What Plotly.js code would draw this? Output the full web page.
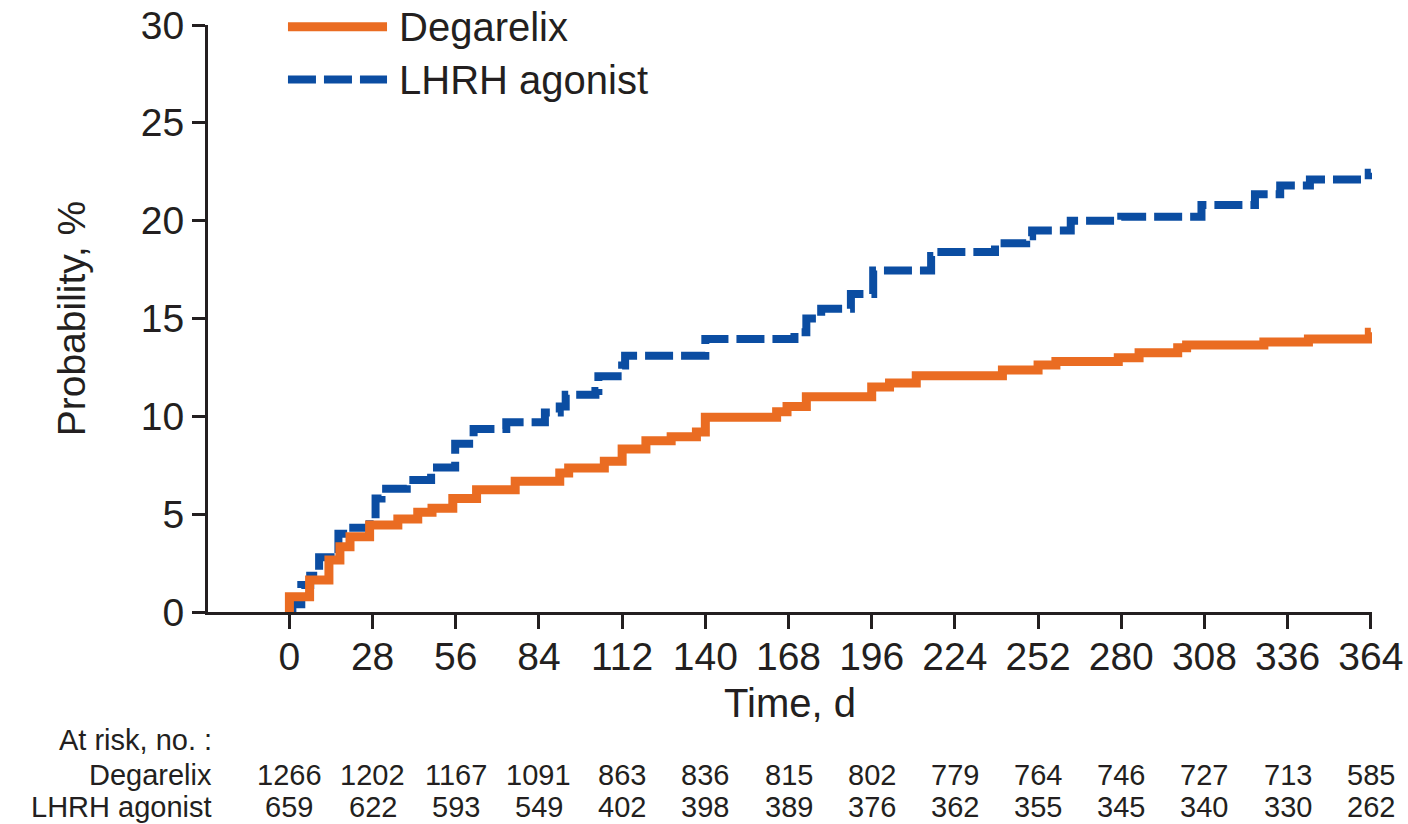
<!DOCTYPE html>
<html>
<head>
<meta charset="utf-8">
<script src="https://cdn.plot.ly/plotly-3.0.1.min.js"></script>
<style>
  html, body { margin: 0; padding: 0; background: #ffffff; }
  #chart { width: 1408px; height: 824px; }
</style>
</head>
<body>
<div id="chart"></div>
<script>
// Cumulative probability (%) step curves, time in days
const degarelixDays = [0, 0, 6.8, 13.3, 17, 20.4, 27, 36.5, 43.2, 48, 55, 63, 76, 91, 94, 106, 112, 120, 128.5, 137, 140, 164, 167.5, 174, 196, 202, 211, 240, 252, 258, 279, 286, 299, 302, 328, 343, 363.5, 364];
const degarelixProb = [0, 0.78, 1.63, 2.66, 3.34, 3.85, 4.45, 4.75, 5.1, 5.3, 5.8, 6.25, 6.68, 7.1, 7.36, 7.7, 8.33, 8.75, 8.96, 9.2, 9.95, 10.24, 10.5, 11.0, 11.5, 11.7, 12.08, 12.37, 12.62, 12.8, 13.0, 13.25, 13.5, 13.65, 13.8, 13.95, 14.3, 14.3];

const lhrhDays = [0, 1, 4, 7, 10, 16.5, 20, 27, 29, 31, 39.5, 47.7, 55.8, 62, 73, 86, 91, 93, 103, 104, 112, 113, 140, 170, 174, 179, 189, 196.5, 216, 218, 237.5, 248, 250, 263, 280, 307, 325, 333.5, 343.5, 363.3, 364];
const lhrhProb = [0, 0.4, 1.38, 1.85, 2.8, 4.0, 4.3, 5.0, 5.8, 6.3, 6.75, 7.38, 8.6, 9.35, 9.7, 10.2, 10.5, 11.1, 11.3, 12.05, 12.6, 13.1, 13.95, 14.3, 15.0, 15.5, 16.25, 17.45, 18.2, 18.4, 18.85, 19.2, 19.5, 20.0, 20.2, 20.8, 21.35, 21.8, 22.1, 22.45, 22.45];

// Number at risk table
const riskDays = [0, 28, 56, 84, 112, 140, 168, 196, 224, 252, 280, 308, 336, 364];
const riskDegarelix = [1266, 1202, 1167, 1091, 863, 836, 815, 802, 779, 764, 746, 727, 713, 585];
const riskLhrh = [659, 622, 593, 549, 402, 398, 389, 376, 362, 355, 345, 340, 330, 262];

const seriesNames = ['Degarelix', 'LHRH agonist'];
const riskHeader = 'At risk, no. :';

const ORANGE = '#EA6C22';
const BLUE = '#0B4DA2';
const INK = '#231F20';
const FONT = 'Liberation Sans, Arial, Helvetica, sans-serif';
const DASH = '28px,8px';
const TABLE_SIZE = 29;

const traces = [
  {
    x: lhrhDays, y: lhrhProb, name: seriesNames[1], type: 'scatter', mode: 'lines',
    line: { shape: 'hv', color: BLUE, width: 8, dash: DASH },
    showlegend: false, hoverinfo: 'x+y+name'
  },
  {
    x: degarelixDays, y: degarelixProb, name: seriesNames[0], type: 'scatter', mode: 'lines',
    line: { shape: 'hv', color: ORANGE, width: 9 },
    showlegend: false, hoverinfo: 'x+y+name'
  }
];

// paper-y positions of the at-risk rows
const rowHeaderY = -0.218, rowDegY = -0.278, rowLhrhY = -0.332;

const annotations = [];
function tableText(xref, x, y, xanchor, text) {
  annotations.push({ xref: xref, yref: 'paper', x: x, y: y, xanchor: xanchor, yanchor: 'middle',
    text: text, showarrow: false, font: { family: FONT, size: TABLE_SIZE, color: INK } });
}
tableText('paper', 0.005, rowHeaderY, 'right', riskHeader);
tableText('paper', 0.005, rowDegY, 'right', seriesNames[0]);
tableText('paper', 0.005, rowLhrhY, 'right', seriesNames[1]);
riskDays.forEach((d, i) => {
  tableText('x', d, rowDegY, 'center', String(riskDegarelix[i]));
  tableText('x', d, rowLhrhY, 'center', String(riskLhrh[i]));
});

// Legend built from a line sample and a label per series
const legendX0 = 0.0687, legendX1 = 0.1538, legendTextX = 0.162;
const legendY = [0.997, 0.907];
annotations.push({ xref: 'paper', yref: 'paper', x: legendTextX, y: legendY[0], xanchor: 'left', yanchor: 'middle',
  text: seriesNames[0], showarrow: false, font: { family: FONT, size: 40, color: INK } });
annotations.push({ xref: 'paper', yref: 'paper', x: legendTextX, y: legendY[1], xanchor: 'left', yanchor: 'middle',
  text: seriesNames[1], showarrow: false, font: { family: FONT, size: 40, color: INK } });

const shapes = [
  { type: 'line', xref: 'paper', yref: 'paper', x0: legendX0, x1: legendX1, y0: legendY[0], y1: legendY[0],
    line: { color: ORANGE, width: 9 } },
  { type: 'line', xref: 'paper', yref: 'paper', x0: legendX0, x1: legendX1, y0: legendY[1], y1: legendY[1],
    line: { color: BLUE, width: 8, dash: DASH } }
];

const layout = {
  width: 1408, height: 824,
  margin: { l: 208, r: 36, t: 25, b: 212, pad: 0 },
  paper_bgcolor: '#ffffff', plot_bgcolor: '#ffffff',
  font: { family: FONT, color: INK },
  showlegend: false,
  xaxis: {
    range: [-27.4, 364.4], tick0: 0, dtick: 28, tickmode: 'linear',
    showgrid: false, zeroline: false,
    showline: true, linecolor: INK, linewidth: 3,
    ticks: 'outside', ticklen: 14, tickwidth: 3, tickcolor: INK,
    ticklabelstandoff: -6,
    tickfont: { family: FONT, size: 39, color: INK },
    title: { text: 'Time, d', font: { family: FONT, size: 40, color: INK }, standoff: 13 }
  },
  yaxis: {
    range: [0, 30], tick0: 0, dtick: 5, tickmode: 'linear',
    showgrid: false, zeroline: false,
    showline: true, linecolor: INK, linewidth: 3,
    ticks: 'outside', ticklen: 13, tickwidth: 3, tickcolor: INK,
    tickfont: { family: FONT, size: 39, color: INK },
    title: { text: 'Probability, %', font: { family: FONT, size: 39, color: INK }, standoff: 44 }
  },
  annotations: annotations,
  shapes: shapes
};

Plotly.newPlot('chart', traces, layout, { staticPlot: true, displayModeBar: false });
</script>
</body>
</html>
